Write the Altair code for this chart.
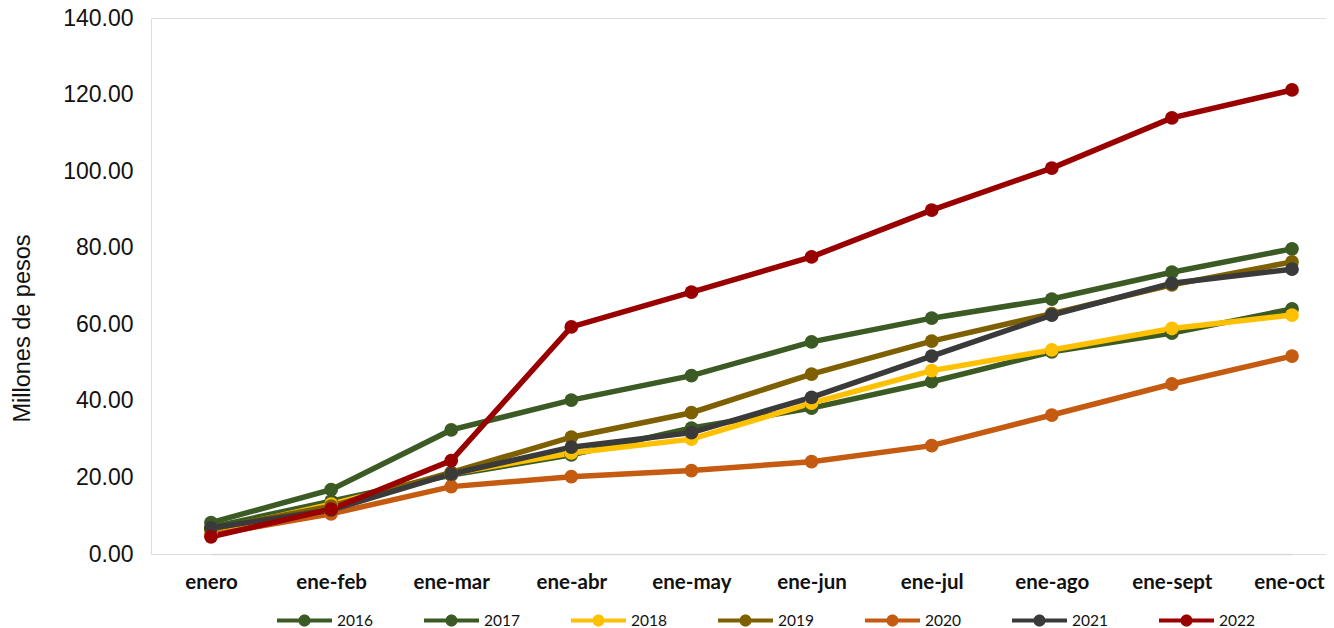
import altair as alt
import pandas as pd

months = ["enero", "ene-feb", "ene-mar", "ene-abr", "ene-may", "ene-jun",
          "ene-jul", "ene-ago", "ene-sept", "ene-oct"]
years = ["2016", "2017", "2018", "2019", "2020", "2021", "2022"]
v2016 = [7.0, 13.8, 20.6, 25.9, 32.9, 38.1, 45.0, 52.8, 57.7, 64.0]
v2017 = [8.2, 16.8, 32.4, 40.2, 46.6, 55.4, 61.6, 66.6, 73.6, 79.7]
v2018 = [6.0, 13.0, 21.0, 26.4, 30.0, 39.4, 47.9, 53.3, 58.9, 62.4]
v2019 = [6.5, 12.5, 21.3, 30.5, 36.9, 47.0, 55.6, 62.8, 70.3, 76.3]
v2020 = [5.0, 10.5, 17.6, 20.2, 21.8, 24.1, 28.3, 36.3, 44.4, 51.7]
v2021 = [6.8, 11.5, 20.9, 27.9, 31.7, 40.9, 51.7, 62.4, 70.7, 74.4]
v2022 = [4.5, 11.7, 24.4, 59.3, 68.4, 77.6, 89.8, 100.8, 113.9, 121.2]
colors = ["#3B5A24", "#3B5A24", "#FFC000", "#7F6000", "#C55A11", "#3A3A3A", "#990000"]

series = [v2016, v2017, v2018, v2019, v2020, v2021, v2022]
rows = []
for yi, (yr, vals) in enumerate(zip(years, series)):
    for mi, (m, v) in enumerate(zip(months, vals)):
        rows.append({"mes": m, "anio": yr, "valor": v, "orden": yi})
df = pd.DataFrame(rows)

# legend glyph: a thin bar with a dot in the middle (filled path)
legend_symbol = ("M-1,-0.075L1,-0.075L1,0.075L-1,0.075Z"
                 "M0.22,0A0.22,0.22,0,1,1,-0.22,0A0.22,0.22,0,1,1,0.22,0Z")

x_enc = alt.X("mes:N", sort=months,
              scale=alt.Scale(type="point", range=[60, 1141], padding=0),
              axis=alt.Axis(title=None, labelAngle=0, ticks=False, grid=False,
                            domainColor="#D9D9D9", domainWidth=1.5,
                            labelFont="Lato", labelFontWeight="bold",
                            labelFontSize=20.5, labelColor="#111111",
                            labelPadding=18, labelBound=False,
                            labelOffset={"expr": "datum.value == 'ene-oct' ? -3 : 0"}))
y_enc = alt.Y("valor:Q",
              scale=alt.Scale(domain=[0, 140], nice=False),
              axis=alt.Axis(title="Millones de pesos", values=[0, 20, 40, 60, 80, 100, 120, 140],
                            format=".2f", domain=False, ticks=False, grid=False,
                            labelFont="Liberation Sans", labelFontSize=23,
                            labelColor="#111111", labelPadding=18,
                            titleFont="Liberation Sans", titleFontSize=23.5,
                            titleFontWeight="normal", titleColor="#111111",
                            titleX=-129, titleY=310, titleAngle=-90,
                            titleAlign="center", titleBaseline="middle"))
color_enc = alt.Color("anio:N", sort=years,
                      scale=alt.Scale(domain=years, range=colors),
                      legend=alt.Legend(title=None, orient="none", legendX=126, legendY=575,
                                        direction="horizontal", columns=7,
                                        symbolType=legend_symbol, symbolSize=3025,
                                        symbolStrokeWidth=0, labelOffset=5,
                                        columnPadding=51,
                                        labelFont="Lato", labelFontSize=15.5,
                                        labelColor="#111111"))

base = alt.Chart(df).encode(x=x_enc, y=y_enc, color=color_enc,
                            order=alt.Order("orden:Q"))
lines = base.mark_line(strokeWidth=5.5)
points = base.mark_circle(size=190, opacity=1)

chart = alt.layer(lines, points).properties(
    width=1175, height=536,
    autosize=alt.AutoSizeParams(type="none"),
    padding={"left": 143, "top": 10, "right": 0, "bottom": 74},
).configure_view(strokeWidth=0, stroke="transparent").configure(background="white")

chart.save("out.html", embed_options={"renderer": "svg", "actions": False})
